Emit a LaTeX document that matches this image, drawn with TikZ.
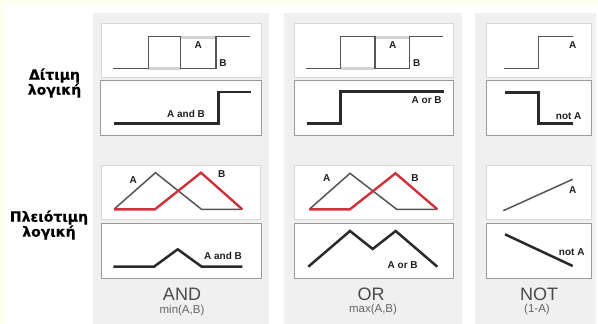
\documentclass[tikz,border=0pt]{standalone}
\usepackage{fontspec}
\setmainfont{Liberation Sans}
\newfontfamily\rowfont{DejaVu Sans}[BoldFeatures={FakeBold=0.6}]
\definecolor{cream}{HTML}{FFFFEE}
\definecolor{panel}{HTML}{F0F0F0}
\definecolor{thinline}{HTML}{555555}
\definecolor{thickline}{HTML}{2A2A2A}
\definecolor{hilite}{HTML}{D2D2D2}
\definecolor{redline}{HTML}{D0313C}
\definecolor{upframe}{HTML}{D8D8D8}
\definecolor{lowframe}{HTML}{9A9A9A}
\definecolor{optext}{HTML}{4A4A4A}
\begin{document}
\begin{tikzpicture}[x=1pt,y=-1pt,
  upbox/.style={draw=upframe,line width=1pt,fill=white,anchor=north west,inner sep=0pt,
    minimum width=#1,minimum height=54pt},
  lowbox/.style={draw=lowframe,line width=0.9pt,fill=white,anchor=north west,inner sep=0pt,
    minimum width=#1,minimum height=55pt},
  sig/.style={draw=thinline,line width=1.5pt,line join=miter},
  sigbold/.style={draw=thickline,line width=2.5pt,line join=miter},
  sigred/.style={draw=redline,line width=2.4pt,line join=miter},
  glow/.style={draw=hilite,line width=3pt},
  lbl/.style={font=\bfseries\fontsize{10}{10}\selectfont,text=black!88,inner sep=0pt},
  rowlbl/.style={font=\rowfont\bfseries\fontsize{14}{15}\selectfont,align=center,inner sep=0pt},
  opname/.style={font=\fontsize{18}{18}\selectfont,text=optext,inner sep=0pt,anchor=base},
  opform/.style={font=\fontsize{11.5}{12}\selectfont,text=optext!85,inner sep=0pt,anchor=base}]
\useasboundingbox (0,0) rectangle (598,324);
% page and column panels
\fill[cream] (0,0) rectangle (598,324);
\fill[white] (5,5) rectangle (598,324);
\fill[panel] (93,13) rectangle (269,324);
\fill[panel] (284,13) rectangle (462,324);
\fill[panel] (475,13) rectangle (596,324);

% row titles
\node[rowlbl] (two) at (54.5,83) {Δίτιμη\\λογική};
\node[rowlbl] (multi) at (49,225) {Πλειότιμη\\λογική};

% ---------- AND column ----------
\node[upbox=160pt] (andA) at (101,23) {};
\node[lowbox=161pt] (andB) at (100,79.5) {};
\draw[glow] (148.3,68.3) -- (180.7,68.3);
\draw[glow] (180.7,37) -- (216,37);
\draw[sig] (112.7,68.3) -- (148.3,68.3) -- (148.3,36.7) -- (180.7,36.7) -- (180.7,68.3)
  -- (216,68.3) -- (216,36.7) -- (250,36.7);
\node[lbl] (andAl) at (198.3,45.5) {A};
\node[lbl] (andBl) at (223,63.5) {B};
\draw[sigbold] (114,123.3) -- (218.3,123.3) -- (218.3,92) -- (250.7,92);
\node[lbl] (andres) at (186,113.5) {A and B};

\node[upbox=159pt] (andC) at (101,165) {};
\node[lowbox=160pt] (andD) at (100.5,222.7) {};
\draw[sig] (114,209.3) -- (155.5,172.7) -- (201.5,209.3) -- (242.3,209.3);
\draw[sigred] (114,209.3) -- (155,209.3) -- (201,172.7) -- (242.3,209.3);
\node[lbl] (andCa) at (133.3,180) {A};
\node[lbl] (andCb) at (221.7,174) {B};
\draw[sigbold] (113.3,266.7) -- (154,266.7) -- (177.7,249.3) -- (201.7,266.7) -- (242.3,266.7);
\node[lbl] (andres2) at (223,256) {A and B};

\node[opname] (andname) at (182,300) {AND};
\node[opform] (andform) at (182,313) {min(A,B)};

% ---------- OR column ----------
\node[upbox=159pt] (orA) at (294,23) {};
\node[lowbox=159pt] (orB) at (294,79.5) {};
\draw[glow] (340.7,68.3) -- (375,68.3);
\draw[glow] (375,37) -- (409.3,37);
\draw[sig] (306,68.3) -- (340.7,68.3) -- (340.7,36.7) -- (375,36.7) -- (375,68.3)
  -- (409.3,68.3) -- (409.3,36.7) -- (443.3,36.7);
\node[lbl] (orAl) at (392.7,45.5) {A};
\node[lbl] (orBl) at (416.7,63) {B};
\draw[sigbold] (306.7,123.3) -- (340.5,123.3) -- (340.5,91.7) -- (444,91.7);
\node[lbl] (orres) at (426.7,100.5) {A or B};

\node[upbox=159pt] (orC) at (294,165) {};
\node[lowbox=159pt] (orD) at (294,222.7) {};
\draw[sig] (309.3,209.3) -- (350,173.3) -- (396.7,209.3) -- (437.3,209.3);
\draw[sigred] (309.3,209.3) -- (350,209.3) -- (395.5,173.3) -- (437.3,209.3);
\node[lbl] (orCa) at (326.7,178.5) {A};
\node[lbl] (orCb) at (415,178.5) {B};
\draw[sigbold] (308.3,266.7) -- (350,231) -- (372.7,249) -- (395.7,231) -- (437.3,266.7);
\node[lbl] (orres2) at (402.7,265) {A or B};

\node[opname] (orname) at (371,300) {OR};
\node[opform] (orform) at (373,312) {max(A,B)};

% ---------- NOT column ----------
\node[upbox=104.7pt] (notA) at (486,23) {};
\node[lowbox=104.7pt] (notB) at (486,79.5) {};
\draw[sig] (504,68.3) -- (538.3,68.3) -- (538.3,36.7) -- (572.7,36.7);
\node[lbl] (notAl) at (572.7,45.5) {A};
\draw[sigbold] (505,92.7) -- (538.3,92.7) -- (538.3,123.3) -- (573.3,123.3);
\node[lbl] (notres) at (568.7,116) {not A};

\node[upbox=104.7pt] (notC) at (486,165) {};
\node[lowbox=104.7pt] (notD) at (486,222.7) {};
\draw[sig] (503.3,210.7) -- (572.7,179.3);
\node[lbl] (notCa) at (572.7,190) {A};
\draw[sigbold] (505,234.3) -- (572.7,266);
\node[lbl] (notres2) at (571.7,251.7) {not A};

\node[opname] (notname) at (539,300) {NOT};
\node[opform] (notform) at (537,312) {(1-A)};
\end{tikzpicture}
\end{document}
